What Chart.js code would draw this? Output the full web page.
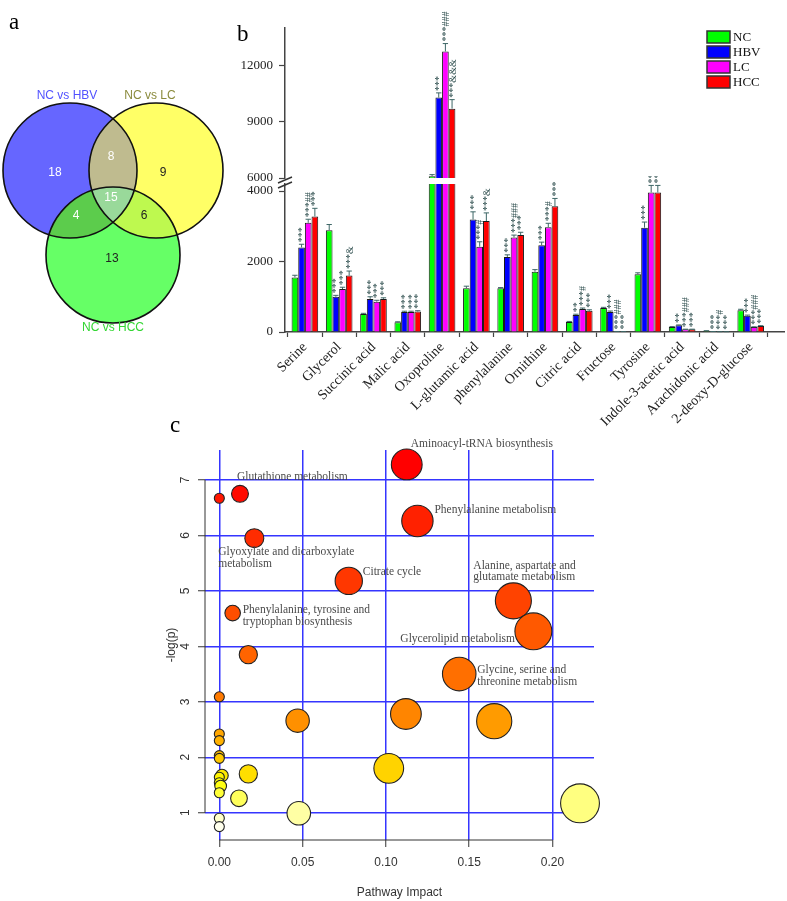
<!DOCTYPE html>
<html><head><meta charset="utf-8"><title>Metabolomics figure</title>
<script src="https://cdn.jsdelivr.net/npm/chart.js@4.4.1/dist/chart.umd.min.js"></script>
<style>
html,body{margin:0;padding:0;background:#fff;}
#wrap{position:relative;width:787px;height:901px;overflow:hidden;background:#fff;}
#wrap canvas{position:absolute;}
.pl{position:absolute;font-family:"Liberation Serif",serif;font-size:23px;line-height:23px;color:#000;}
</style></head>
<body><div id="wrap">
<canvas id="venn" width="235" height="345" style="left:0px;top:0px"></canvas>
<canvas id="barTop" width="567" height="192" style="left:220px;top:0px"></canvas>
<canvas id="barBot" width="567" height="272" style="left:220px;top:176px"></canvas>
<canvas id="bubble" width="637" height="481" style="left:150px;top:420px"></canvas>
<div class="pl" style="left:9px;top:10px">a</div>
<div class="pl" style="left:237px;top:22px">b</div>
<div class="pl" style="left:170px;top:413px">c</div>
</div>
<script>
// ================= DATA =================
// Panel a: Venn diagram
const vennSetNames = ['NC vs HBV', 'NC vs LC', 'NC vs HCC'];
const vennRegions = ['HBV', 'LC', 'HCC', 'HBV&LC', 'HBV&HCC', 'LC&HCC', 'HBV&LC&HCC'];
const vennCounts = [18, 9, 13, 8, 4, 6, 15];

// Panel b: bar chart
const categories = ['Serine', 'Glycerol', 'Succinic acid', 'Malic acid', 'Oxoproline', 'L-glutamic acid',
  'phenylalanine', 'Ornithine', 'Citric acid', 'Fructose', 'Tyrosine', 'Indole-3-acetic acid',
  'Arachidonic acid', '2-deoxy-D-glucose'];
const groups = ['NC', 'HBV', 'LC', 'HCC'];
const ncValues  = [1550, 2890, 510, 275, 6100, 1240, 1240, 1710, 285, 680, 1640, 145, 35, 620];
const hbvValues = [2400, 1000, 940, 565, 10290, 3190, 2130, 2460, 480, 570, 2960, 190, 12, 460];
const lcValues  = [3100, 1220, 860, 570, 12750, 2420, 2680, 2975, 650, 12, 3960, 75, 8, 140];
const hccValues = [3280, 1600, 940, 580, 9700, 3150, 2750, 3570, 600, 10, 3960, 75, 8, 170];
const ncErrors  = [60, 160, 20, 15, 80, 60, 20, 60, 15, 20, 40, 8, 3, 25];
const hbvErrors = [90, 40, 60, 25, 250, 220, 60, 90, 25, 25, 160, 10, 2, 20];
const lcErrors  = [100, 50, 40, 20, 420, 140, 70, 110, 30, 3, 200, 5, 1, 8];
const hccErrors = [230, 130, 30, 25, 480, 230, 80, 220, 30, 3, 200, 5, 1, 10];
const ncMarks  = ['', '', '', '', '', '', '', '', '', '', '', '', '', ''];
const hbvMarks = ['***', '***', '***', '***', '***', '***', '***', '***', '**', '***', '***', '**', '***', '***'];
const lcMarks  = ['***##', '***', '***', '***', '***###', '***#', '***###', '***#', '***#', '***###', '***##', '***###', '***#', '***###'];
const hccMarks = ['***', '***&', '***', '***', '***&&&', '***&', '***', '***', '***', '***', '***', '***', '***', '***'];
const upperTicks = [6000, 9000, 12000];
const lowerTicks = [0, 2000, 4000];

// Panel c: pathway bubble chart
const pathwayImpact  = [0.1125, 0, 0.0124, 0.021, 0.0777, 0.1189, 0.008, 0.0174, 0.1765, 0.1885, 0.144, 0,
  0.047, 0.112, 0.165, 0, 0, 0, 0, 0.0016, 0, 0, 0.0008, 0, 0.0174, 0.0118, 0.1017, 0.0477, 0.2165, 0, 0];
const pathwayNegLogP = [7.28, 6.67, 6.75, 5.95, 5.18, 6.26, 4.60, 3.85, 4.82, 4.27, 3.50, 3.09,
  2.66, 2.78, 2.65, 2.42, 2.30, 2.03, 1.98, 1.67, 1.64, 1.54, 1.48, 1.36, 1.70, 1.26, 1.80, 0.99, 1.17, 0.90, 0.75];
const pathwayNames = ['Aminoacyl-tRNA biosynthesis', '', 'Glutathione metabolism',
  'Glyoxylate and dicarboxylate\nmetabolism', 'Citrate cycle', 'Phenylalanine metabolism',
  'Phenylalanine, tyrosine and\ntryptophan biosynthesis', '', 'Alanine, aspartate and\nglutamate metabolism',
  'Glycerolipid metabolism', 'Glycine, serine and\nthreonine metabolism', '', '', '', '', '', '', '', '', '',
  '', '', '', '', '', '', '', '', '', '', ''];
const impactTicks = [0, 0.05, 0.10, 0.15, 0.20];
const logpTicks = [1, 2, 3, 4, 5, 6, 7];

// ================= LAYOUT / STYLE =================
const base = {responsive:false, devicePixelRatio:1, animation:false, events:[],
  plugins:{legend:{display:false}, tooltip:{enabled:false}}};

// ---------- Panel a ----------
const vennLayout = {
  circles: [{cx:70, cy:170.5, rx:67, ry:67.5}, {cx:156, cy:170.5, rx:67, ry:67.5}, {cx:113, cy:255, rx:67, ry:68}],
  fills: ['#6666ff', '#ffff66', '#66ff66'],
  ab: '#bfbb8f', ac: '#5ccc4c', bc: '#bef94f', abc: '#99d99a',
  countPos: [[55,173],[163,173],[112,259],[111,157],[76,216],[144,216],[111,198]],
  countColor: ['#fff','#222','#222','#fff','#fff','#222','#fff'],
  namePos: [[67,96],[150,96],[113,328]],
  nameColor: ['#5252ff','#8a8a3c','#33d633']
};
const vennPlugin = {
  id:'venn',
  afterDraw(chart){
    const ctx = chart.ctx, xs = chart.scales.x, ys = chart.scales.y;
    const path = c => {
      const px = xs.getPixelForValue(c.cx), py = ys.getPixelForValue(c.cy);
      const rx = Math.abs(xs.getPixelForValue(c.cx + c.rx) - px), ry = Math.abs(ys.getPixelForValue(c.cy + c.ry) - py);
      ctx.beginPath(); ctx.ellipse(px, py, rx, ry, 0, 0, Math.PI*2);
    };
    const L = vennLayout, C = L.circles;
    ctx.save();
    C.forEach((c,i)=>{ path(c); ctx.fillStyle = L.fills[i]; ctx.fill(); });
    const inter = (clips, fillC, col) => { ctx.save(); clips.forEach(k=>{ path(C[k]); ctx.clip(); }); path(C[fillC]); ctx.fillStyle = col; ctx.fill(); ctx.restore(); };
    inter([0], 1, L.ab); inter([0], 2, L.ac); inter([1], 2, L.bc); inter([0,1], 2, L.abc);
    ctx.strokeStyle = '#111'; ctx.lineWidth = 1.6;
    C.forEach(c=>{ path(c); ctx.stroke(); });
    ctx.font = '12px "Liberation Sans", Arial, sans-serif'; ctx.textAlign = 'center'; ctx.textBaseline = 'middle';
    vennCounts.forEach((n,i)=>{ ctx.fillStyle = L.countColor[i]; ctx.fillText(String(n), xs.getPixelForValue(L.countPos[i][0]), ys.getPixelForValue(L.countPos[i][1])); });
    vennSetNames.forEach((s,i)=>{ ctx.fillStyle = L.nameColor[i]; ctx.fillText(s, xs.getPixelForValue(L.namePos[i][0]), ys.getPixelForValue(L.namePos[i][1])); });
    ctx.restore();
  }
};
new Chart(document.getElementById('venn'), {
  type:'scatter', data:{datasets:[]},
  options:{...base, layout:{padding:0},
    scales:{x:{type:'linear', min:0, max:235, display:false}, y:{type:'linear', min:0, max:345, reverse:true, display:false}}},
  plugins:[vennPlugin]
});

// ---------- Panel b ----------
const groupColors = ['#00ff00', '#0000ff', '#ff00ff', '#ff0000'];
const seriesValues = [ncValues, hbvValues, lcValues, hccValues];
const seriesErrors = [ncErrors, hbvErrors, lcErrors, hccErrors];
const seriesMarks = [ncMarks, hbvMarks, lcMarks, hccMarks];
const X_MIN = -0.58, X_MAX = 13.97;

function barDatasets(keep){
  return groups.map((g, gi) => ({
    label: g,
    data: seriesValues[gi].map((v, i) => ({x: i, y: keep(v) ? v : null})),
    errors: seriesErrors[gi], marks: seriesMarks[gi],
    backgroundColor: groupColors[gi], borderColor: '#1a1a1a', borderWidth: 1,
    categoryPercentage: 0.8, barPercentage: 1.0
  }));
}
function xScale(show){
  return {type:'linear', min:X_MIN, max:X_MAX, display:show, offset:false,
    afterBuildTicks: s => { s.ticks = categories.map((c,i)=>({value:i})).concat([{value:X_MAX}]); },
    ticks:{autoSkip:false, minRotation:45, maxRotation:45, padding:2, color:'#222',
      font:{family:'"Liberation Serif", serif', size:14},
      callback: v => (Number.isInteger(v) && categories[v]) ? categories[v] : ''},
    grid:{drawOnChartArea:false, drawTicks:true, tickLength:5, color:'#444', tickWidth:1.2},
    border:{display:true, color:'#444', width:1.5},
    afterFit: s => { s.height = show ? 116 : 0; s.paddingLeft = 0; s.paddingRight = 0; }
  };
}
function yScale(min, max, tickVals){
  return {type:'linear', min, max,
    afterBuildTicks: s => { s.ticks = tickVals.map(v=>({value:v})); },
    ticks:{padding:6, color:'#222', font:{family:'"Liberation Serif", serif', size:13}, callback: v => String(v)},
    grid:{drawOnChartArea:false, drawTicks:true, tickLength:6, color:'#444', tickWidth:1.2},
    border:{display:true, color:'#444', width:1.5},
    afterFit: s => { s.width = 65; s.paddingTop = 0; s.paddingBottom = 0; }
  };
}
const errorBarPlugin = {
  id:'errorBars',
  afterDatasetsDraw(chart){
    const ctx = chart.ctx, yS = chart.scales.y;
    ctx.save();
    chart.data.datasets.forEach((ds, di) => {
      const meta = chart.getDatasetMeta(di);
      meta.data.forEach((el, i) => {
        const v = ds.data[i].y;
        if (v == null) return;
        const topV = v + ds.errors[i];
        if (topV > yS.max) return;
        const x = el.x, y1 = yS.getPixelForValue(topV), half = el.width * 0.4;
        ctx.strokeStyle = '#3d6666'; ctx.lineWidth = 1;
        ctx.beginPath(); ctx.moveTo(x, el.y); ctx.lineTo(x, y1);
        ctx.moveTo(x - half, y1); ctx.lineTo(x + half, y1); ctx.stroke();
        const m = ds.marks[i];
        if (m) {
          ctx.save(); ctx.translate(x + 1, y1 - 2); ctx.rotate(-Math.PI/2);
          ctx.fillStyle = '#2f4f4f'; ctx.font = '10px "Liberation Serif", serif';
          ctx.textAlign = 'left'; ctx.textBaseline = 'middle';
          ctx.fillText(m, 0, 0); ctx.restore();
        }
      });
    });
    ctx.restore();
  }
};
const legendPlugin = {
  id:'boxLegend',
  afterDraw(chart){
    const ctx = chart.ctx, ca = chart.chartArea;
    ctx.save();
    chart.data.datasets.forEach((ds, i) => {
      const bx = ca.right - 77, by = 31 + 15 * i;
      ctx.fillStyle = ds.backgroundColor; ctx.fillRect(bx, by, 23, 12);
      ctx.strokeStyle = '#333'; ctx.lineWidth = 1.5; ctx.strokeRect(bx, by, 23, 12);
      ctx.fillStyle = '#111'; ctx.font = '13px "Liberation Serif", serif';
      ctx.textAlign = 'left'; ctx.textBaseline = 'middle'; ctx.fillText(ds.label, bx + 26, by + 6.5);
    });
    ctx.restore();
  }
};
const breakPlugin = {
  id:'axisBreak',
  afterDraw(chart){
    const ctx = chart.ctx, ca = chart.chartArea;
    ctx.save(); ctx.strokeStyle = '#333'; ctx.lineWidth = 1.4;
    ctx.beginPath();
    ctx.moveTo(ca.left - 7, ca.top - 1); ctx.lineTo(ca.left + 7, ca.top - 7);
    ctx.moveTo(ca.left - 7, ca.top + 4); ctx.lineTo(ca.left + 7, ca.top - 2);
    ctx.stroke(); ctx.restore();
  }
};
new Chart(document.getElementById('barTop'), {
  type:'bar',
  data:{datasets: barDatasets(v => v > upperTicks[0])},
  options:{...base, layout:{padding:{top:28, right:3, bottom:14, left:0}},
    scales:{x: xScale(false), y: yScale(6000, 14000, upperTicks)}},
  plugins:[errorBarPlugin, legendPlugin]
});
new Chart(document.getElementById('barBot'), {
  type:'bar',
  data:{datasets: barDatasets(v => true)},
  options:{...base, layout:{padding:{top:8, right:3, bottom:0, left:0}},
    scales:{x: xScale(true), y: yScale(0, 4200, lowerTicks)}},
  plugins:[errorBarPlugin, breakPlugin]
});

// ---------- Panel c ----------
function heatColors(n){
  const j = Math.floor(n/4), i = n - j, out = [];
  for (let k = 0; k < i; k++){ const h = i > 1 ? k/(i-1) : 0; out.push('rgb(255,' + Math.round(255*h) + ',0)'); }
  const s0 = 1 - 1/(2*j), s1 = 1/(2*j);
  for (let k = 0; k < j; k++){ const s = j > 1 ? s0 + (s1 - s0)*k/(j-1) : s0; out.push('rgb(255,255,' + Math.round(255*(1-s)) + ')'); }
  return out;
}
const heat = heatColors(pathwayNegLogP.length);
const rankOrder = pathwayNegLogP.map((v,i)=>i).sort((a,b)=>pathwayNegLogP[b]-pathwayNegLogP[a]);
const pointColors = [];
rankOrder.forEach((idx, r) => { pointColors[idx] = heat[r]; });
const labelOffsets = {0:[4,-20], 2:[-3,-17], 3:[-36,14], 4:[14,-9], 5:[17,-11], 6:[10,-3], 8:[-40,-35], 9:[-133,8], 10:[18,-4]};

const bubbleDecor = {
  id:'bubbleDecor',
  afterDraw(chart){
    const ctx = chart.ctx, x = chart.scales.x, y = chart.scales.y, ca = chart.chartArea;
    ctx.save();
    ctx.strokeStyle = '#333'; ctx.lineWidth = 1;
    ctx.beginPath();
    ctx.moveTo(ca.left, y.getPixelForValue(logpTicks[logpTicks.length-1])); ctx.lineTo(ca.left, y.getPixelForValue(logpTicks[0]));
    ctx.moveTo(x.getPixelForValue(impactTicks[0]), ca.bottom); ctx.lineTo(x.getPixelForValue(impactTicks[impactTicks.length-1]), ca.bottom);
    ctx.stroke();
    ctx.fillStyle = '#333'; ctx.font = '12px "Liberation Sans", Arial, sans-serif';
    ctx.textAlign = 'center'; ctx.textBaseline = 'middle';
    logpTicks.forEach(v => { ctx.save(); ctx.translate(ca.left - 19.5, y.getPixelForValue(v)); ctx.rotate(-Math.PI/2); ctx.fillText(String(v), 0, 0); ctx.restore(); });
    ctx.fillStyle = '#4a4a4a'; ctx.font = '11.5px "Liberation Serif", serif';
    ctx.textAlign = 'left'; ctx.textBaseline = 'middle';
    pathwayNames.forEach((name, i) => {
      if (!name) return;
      const off = labelOffsets[i] || [0,0];
      const px = x.getPixelForValue(pathwayImpact[i]) + off[0], py = y.getPixelForValue(pathwayNegLogP[i]) + off[1];
      name.split('\n').forEach((line, li) => ctx.fillText(line, px, py + li * 11.5));
    });
    ctx.restore();
  }
};
new Chart(document.getElementById('bubble'), {
  type:'bubble',
  data:{datasets:[{
    label:'Pathways',
    data: pathwayImpact.map((v,i)=>({x:v, y:pathwayNegLogP[i]})),
    backgroundColor: c => pointColors[c.dataIndex],
    borderColor:'#222', borderWidth:1.1, clip:false,
    radius: c => 5 + 31 * Math.sqrt(c.raw ? c.raw.x : 0)
  }]},
  options:{...base, layout:{padding:{top:30, right:193, bottom:0, left:0}},
    scales:{
      x:{type:'linear', min:-0.0086, max:0.2249,
        afterBuildTicks: s => { s.ticks = impactTicks.map(v=>({value:v})); },
        ticks:{padding:8, color:'#333', font:{family:'"Liberation Sans", Arial, sans-serif', size:12}, callback: v => v.toFixed(2)},
        grid:{color:'#3535ff', lineWidth:1.5, drawTicks:true, tickLength:7, tickColor:'#333', tickWidth:1},
        border:{display:false},
        title:{display:true, text:'Pathway Impact', color:'#333', padding:{top:0, bottom:1}, font:{family:'"Liberation Sans", Arial, sans-serif', size:12}},
        afterFit: s => { s.height = 61; s.paddingLeft = 0; s.paddingRight = 0; }
      },
      y:{type:'linear', min:0.508, max:7.54,
        afterBuildTicks: s => { s.ticks = logpTicks.map(v=>({value:v})); },
        ticks:{display:false},
        grid:{color:'#3535ff', lineWidth:1.5, drawTicks:true, tickLength:7, tickColor:'#333', tickWidth:1},
        border:{display:false},
        title:{display:true, text:'-log(p)', color:'#333', padding:{top:14, bottom:0}, font:{family:'"Liberation Sans", Arial, sans-serif', size:12}},
        afterFit: s => { s.width = 55; s.paddingTop = 0; s.paddingBottom = 0; }
      }
    }},
  plugins:[bubbleDecor]
});
</script></body></html>
